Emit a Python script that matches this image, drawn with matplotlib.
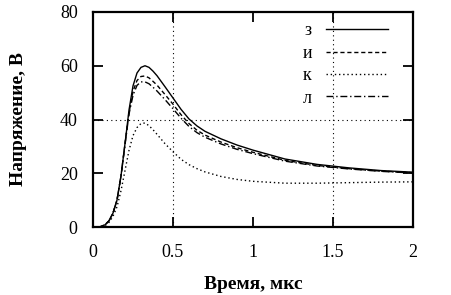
import numpy as np
from matplotlib import pyplot as plt

plt.rcParams['font.family'] = ['Liberation Serif', 'DejaVu Serif']

# время, мкс
t = [0, 0.04, 0.075, 0.1, 0.125, 0.15, 0.175, 0.2, 0.225, 0.25, 0.275, 0.3,
     0.325, 0.35, 0.375, 0.4, 0.45, 0.5, 0.55, 0.6, 0.65, 0.7, 0.8, 0.9,
     1.0, 1.2, 1.4, 1.6, 1.8, 2.0]

# напряжение, В
u_z = [0, 0, 0.8, 2.3, 5.2, 10, 19, 31, 43.5, 52.5, 57.3, 59.4,
       60, 59.4, 58, 56.3, 52.2, 48, 43.8, 40.2, 37.6, 35.6, 32.8, 30.5,
       28.6, 25.3, 23.3, 22, 21, 20.4]
u_i = [0, 0, 0.8, 2.3, 5.2, 10, 19, 31, 42.5, 50.5, 54.5, 56,
       56.2, 55.5, 54.2, 52.8, 49.3, 45.7, 41.8, 38.5, 36, 34.2, 31.6, 29.5,
       27.8, 24.8, 22.9, 21.7, 20.8, 20.2]
u_k = [0, 0, 0.5, 1.7, 4, 7.5, 13.5, 21, 28.5, 34, 37, 38.5,
       38.7, 37.7, 36.2, 34.5, 31, 28, 25.2, 23.2, 21.7, 20.5, 18.8, 17.7,
       17, 16.3, 16.3, 16.5, 16.7, 16.8]
u_l = [0, 0, 0.8, 2.3, 5.2, 10, 19, 30.5, 42, 49, 52.7, 54,
       54, 53.3, 52, 50.6, 47.4, 44, 40.5, 37.4, 35.1, 33.4, 30.9, 28.9,
       27.3, 24.5, 22.7, 21.6, 20.7, 20.1]

labels = ['з', 'и', 'к', 'л']
x_ticks = [0, 0.5, 1, 1.5, 2]
x_ticklabels = ['0', '0.5', '1', '1.5', '2']
y_ticks = [0, 20, 40, 60, 80]
x_grid = [0.5, 1.5]
y_grid = [40]

fig = plt.figure(figsize=(4.52, 2.95), dpi=100)
ax = fig.add_axes([93/452, 1 - 227/295, 320/452, 215/295])

for xg in x_grid:
    ax.axvline(xg, color='black', lw=0.8, ls=(0, (1, 3)), zorder=1)
for yg in y_grid:
    ax.axhline(yg, color='black', lw=0.8, ls=(0, (1, 3)), zorder=1)

ax.plot(t, u_z, 'k-', lw=1.0, label=labels[0])
ax.plot(t, u_i, color='black', lw=1.0, ls=(0, (3, 2)), label=labels[1])
ax.plot(t, u_k, color='black', lw=1.0, ls=(0, (1, 2)), label=labels[2])
ax.plot(t, u_l, color='black', lw=1.0, ls=(0, (5, 2, 1, 2)), label=labels[3])

ax.set_xlim(0, 2)
ax.set_ylim(0, 80)
ax.set_xticks(x_ticks)
ax.set_xticklabels(x_ticklabels)
ax.set_yticks(y_ticks)
ax.tick_params(direction='in', length=7, width=1.3, top=True, right=True,
               labelsize=13)
ax.tick_params(axis='x', pad=12)
ax.tick_params(axis='y', pad=11)
for s in ax.spines.values():
    s.set_linewidth(1.6)

ax.set_xlabel('Время, мкс', fontsize=14, fontweight='bold', labelpad=11)
ax.set_ylabel('Напряжение, В', fontsize=14, fontweight='bold', labelpad=24)

ax.legend(loc='upper right', frameon=False, markerfirst=False, fontsize=13,
          handlelength=3.4, labelspacing=0.3, handletextpad=0.8,
          borderaxespad=0.3, bbox_to_anchor=(0.96, 1.01))

plt.savefig('out.png', dpi=100)
